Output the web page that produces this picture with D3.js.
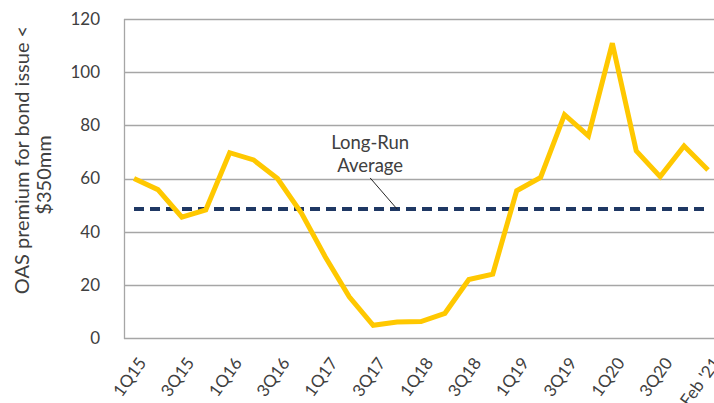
<!DOCTYPE html>
<html lang="en">
  <head>
    <meta charset="utf-8">
    <title>OAS premium for small bond issues</title>
    <script src="https://d3js.org/d3.v7.min.js"></script>
    <style>
      body { margin: 0; background: white; }
      text { font-family: Lato, "Open Sans", sans-serif; fill: #404040; }
    </style>
  </head>
  <body>
    <script type="text/javascript">

      // data
      var quarters = ["1Q15", "2Q15", "3Q15", "4Q15", "1Q16", "2Q16", "3Q16", "4Q16",
                      "1Q17", "2Q17", "3Q17", "4Q17", "1Q18", "2Q18", "3Q18", "4Q18",
                      "1Q19", "2Q19", "3Q19", "4Q19", "1Q20", "2Q20", "3Q20", "4Q20", "Feb '21"];
      var premium = [60, 55.8, 45.5, 48.2, 69.7, 67, 60, 47,
                     30.5, 15.5, 4.8, 6, 6.2, 9.3, 22, 24,
                     55.4, 60.4, 84, 76, 110.9, 70.4, 60.7, 72.2, 63.2];
      var longRunAvg = 48.5;
      var yTicks = [0, 20, 40, 60, 80, 100, 120];
      var xLabels = ["1Q15", "3Q15", "1Q16", "3Q16", "1Q17", "3Q17", "1Q18", "3Q18",
                     "1Q19", "3Q19", "1Q20", "3Q20", "Feb '21"];

      var w = 714;
      var h = 403;
      var plot = {left: 124, right: 720, top: 19, bottom: 338};

      var svg = d3.select("body")
        .append("svg")
          .attr("width", w)
          .attr("height", h);

      var xScale = d3.scalePoint()
          .domain(quarters)
          .range([134, 708]);

      var yScale = d3.scaleLinear()
          .domain([0, 120])
          .range([plot.bottom, plot.top]);

      // gridlines
      svg.append("g")
          .selectAll("line")
          .data(yTicks)
          .enter().append("line")
            .attr("x1", plot.left)
            .attr("x2", plot.right)
            .attr("y1", d => Math.round(yScale(d)) + 0.5)
            .attr("y2", d => Math.round(yScale(d)) + 0.5)
            .attr("stroke", "#a6a6a6")
            .attr("stroke-width", 1.3);

      // left border
      svg.append("line")
          .attr("x1", plot.left + 0.5)
          .attr("x2", plot.left + 0.5)
          .attr("y1", plot.top)
          .attr("y2", plot.bottom + 1)
          .attr("stroke", "#a6a6a6")
          .attr("stroke-width", 1.3);

      // y axis
      var yAxis = d3.axisLeft(yScale)
          .tickValues(yTicks)
          .tickSize(0)
          .tickPadding(0);

      svg.append("g")
          .attr("class", "yAxis")
          .attr("transform", "translate(100, 0)")
          .call(yAxis)
          .call(g => g.select(".domain").remove())
          .selectAll("text")
            .attr("font-size", 17)
            .attr("font-family", "Lato")
            .attr("fill", "#404040");

      // x axis labels
      var xAxis = d3.axisBottom(xScale)
          .tickValues(xLabels)
          .tickSize(0)
          .tickPadding(0);

      svg.append("g")
          .attr("class", "xAxis")
          .attr("transform", "translate(0, 356)")
          .call(xAxis)
          .call(g => g.select(".domain").remove())
          .selectAll("text")
            .attr("font-size", 17)
            .attr("font-family", "Lato")
            .attr("fill", "#404040")
            .attr("text-anchor", "end")
            .attr("dy", "0.7em")
            .attr("transform", "translate(3, 0) rotate(-54)");

      // y axis title
      var title = svg.append("text")
          .attr("transform", "translate(29, 165) rotate(-90)")
          .attr("text-anchor", "middle")
          .attr("font-size", 20)
          .attr("fill", "#404040");
      title.append("tspan").attr("x", 0).attr("dx", 5).attr("y", 0).text("OAS premium for bond issue <");
      title.append("tspan").attr("x", 0).attr("dx", -10).attr("y", 22).text("$350mm");

      // long-run average
      svg.append("line")
          .attr("x1", xScale(quarters[0]))
          .attr("x2", xScale(quarters[quarters.length - 1]))
          .attr("y1", yScale(longRunAvg))
          .attr("y2", yScale(longRunAvg))
          .attr("stroke", "#1f3864")
          .attr("stroke-width", 4)
          .attr("stroke-dasharray", "10,6");

      // main series
      var line = d3.line()
          .x((d, i) => xScale(quarters[i]))
          .y(d => yScale(d));

      svg.append("path")
          .datum(premium)
          .attr("d", line)
          .attr("fill", "none")
          .attr("stroke", "#ffc800")
          .attr("stroke-width", 5)
          .attr("stroke-linejoin", "miter");

      // annotation
      var annX = xScale("3Q17") - 3;
      svg.append("text")
          .attr("x", annX)
          .attr("y", yScale(73.7))
          .attr("dy", "0.35em")
          .attr("text-anchor", "middle")
          .attr("font-size", 18.5)
          .text("Long-Run");
      svg.append("text")
          .attr("x", annX)
          .attr("y", yScale(65))
          .attr("dy", "0.35em")
          .attr("text-anchor", "middle")
          .attr("font-size", 18.5)
          .text("Average");
      svg.append("line")
          .attr("x1", annX)
          .attr("y1", yScale(60.2))
          .attr("x2", xScale("4Q17"))
          .attr("y2", yScale(longRunAvg))
          .attr("stroke", "#262626")
          .attr("stroke-width", 1);

    </script>
  </body>
</html>
